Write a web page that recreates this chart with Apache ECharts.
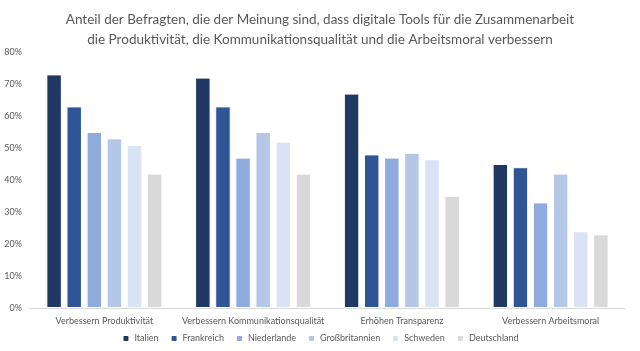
<!DOCTYPE html>
<html>
<head>
<meta charset="utf-8">
<script src="https://cdn.jsdelivr.net/npm/echarts@6/dist/echarts.min.js"></script>
<style>
  html, body { margin: 0; padding: 0; background: #fff; }
  #chart { width: 640px; height: 351px; }
</style>
</head>
<body>
<div id="chart"></div>
<script>
const categories = [
  'Verbessern Produktivität',
  'Verbessern Kommunikationsqualität',
  'Erhöhen Transparenz',
  'Verbessern Arbeitsmoral'
];
const countries = ['Italien', 'Frankreich', 'Niederlande', 'Großbritannien', 'Schweden', 'Deutschland'];
const italien = [73, 72, 67, 45];
const frankreich = [63, 63, 48, 44];
const niederlande = [55, 47, 47, 33];
const grossbritannien = [53, 55, 48.5, 42];
const schweden = [51, 52, 46.5, 24];
const deutschland = [42, 42, 35, 23];
const yTicks = [0, 10, 20, 30, 40, 50, 60, 70, 80];

const seriesValues = [italien, frankreich, niederlande, grossbritannien, schweden, deutschland];
const colors = ['#203864', '#2F5597', '#8FAADC', '#B4C7E7', '#DAE3F3', '#D9D9D9'];
const font = 'Lato, "Open Sans", sans-serif';

const chart = echarts.init(document.getElementById('chart'));
chart.setOption({
  backgroundColor: '#fff',
  animation: false,
  color: colors,
  title: {
    text: 'Anteil der Befragten, die der Meinung sind, dass digitale Tools für die Zusammenarbeit\ndie Produktivität, die Kommunikationsqualität und die Arbeitsmoral verbessern',
    left: 'center',
    top: 5,
    textStyle: { color: '#595959', fontSize: 13.5, fontWeight: 'normal', fontFamily: font, lineHeight: 20 }
  },
  legend: {
    bottom: 3,
    left: 'center',
    itemWidth: 7,
    itemHeight: 7,
    itemGap: 11,
    textStyle: { color: '#595959', fontSize: 9, fontFamily: font }
  },
  grid: { left: 30, right: 15, top: 52, bottom: 43, containLabel: false },
  xAxis: {
    type: 'category',
    data: categories,
    axisTick: { show: false },
    axisLine: { lineStyle: { color: '#D9D9D9' } },
    axisLabel: { color: '#595959', fontSize: 9, fontFamily: font, margin: 9, interval: 0 }
  },
  yAxis: {
    type: 'value',
    min: yTicks[0],
    max: yTicks[yTicks.length - 1],
    interval: 10,
    splitLine: { show: false },
    axisLine: { show: false },
    axisTick: { show: false },
    axisLabel: { color: '#595959', fontSize: 9, fontFamily: font, formatter: '{value}%', margin: 8 }
  },
  series: countries.map((name, i) => ({
    name,
    type: 'bar',
    data: seriesValues[i],
    barGap: '30%',
    barCategoryGap: '22%',
    itemStyle: { color: colors[i], borderColor: '#fff', borderWidth: 1 }
  }))
});
</script>
</body>
</html>
